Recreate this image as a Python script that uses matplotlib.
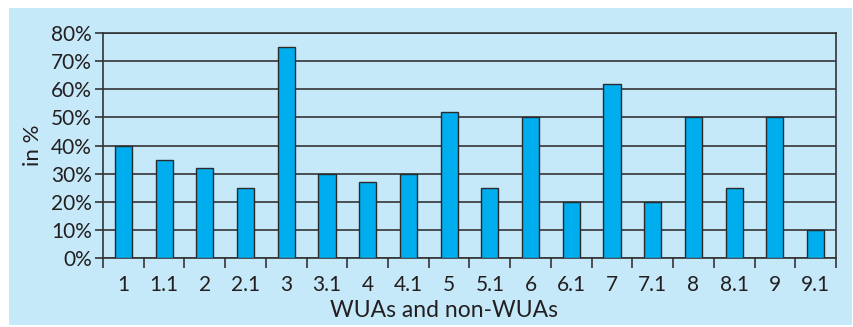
import matplotlib
matplotlib.use("Agg")
import matplotlib.pyplot as plt
from matplotlib.patches import Rectangle
import numpy as np

BG = "#C6E9FA"
BAR = "#00ADEE"
EDGE = "#2B2B2B"
GRID = "#333333"
TEXT = "#231F20"

categories = ["1", "1.1", "2", "2.1", "3", "3.1", "4", "4.1", "5",
              "5.1", "6", "6.1", "7", "7.1", "8", "8.1", "9", "9.1"]
shares = [40, 35, 32, 25, 75, 30, 27, 30, 52,
          25, 50, 20, 62, 20, 50, 25, 50, 10]
yticks = [0, 10, 20, 30, 40, 50, 60, 70, 80]

plt.rcParams["font.family"] = ["Lato", "DejaVu Sans"]

fig = plt.figure(figsize=(8.54, 3.27), dpi=100)
fig.patch.set_facecolor("white")
# light blue panel behind the whole chart
fig.add_artist(Rectangle((9 / 854, 2 / 327), 843 / 854, 317 / 327,
                         transform=fig.transFigure, facecolor=BG,
                         edgecolor="none", zorder=-5))

ax = fig.add_axes([103 / 854, 69 / 327, 733 / 854, 225 / 327])
ax.set_facecolor(BG)

x = np.arange(len(categories))
ax.bar(x, shares, width=0.42, color=BAR, edgecolor=EDGE, linewidth=1.0, zorder=3)

ax.set_xlim(-0.5, len(categories) - 0.5)
ax.set_ylim(0, 80)
ax.set_yticks(yticks)
ax.set_yticklabels([f"{v}%" for v in yticks], fontsize=15, color=TEXT)
ax.yaxis.grid(True, color=GRID, linewidth=1.2, zorder=1)
ax.set_axisbelow(True)

ax.set_xticks(x)
ax.set_xticklabels(categories, fontsize=15, color=TEXT)
ax.tick_params(axis="x", which="major", length=0, pad=12)
ax.set_xticks(np.arange(len(categories) + 1) - 0.5, minor=True)
ax.tick_params(axis="x", which="minor", length=7, width=1.2, color=GRID)
ax.tick_params(axis="y", length=6, width=1.2, color=GRID, pad=2)

for s in ax.spines.values():
    s.set_color(GRID)
    s.set_linewidth(1.2)

ax.set_xlabel("WUAs and non-WUAs", fontsize=16.5, color=TEXT, labelpad=4)
ax.xaxis.label.set_x(0.465)
ax.set_ylabel("in %", fontsize=16, color=TEXT, labelpad=6)

fig.savefig("out.png", dpi=100, facecolor="white")
